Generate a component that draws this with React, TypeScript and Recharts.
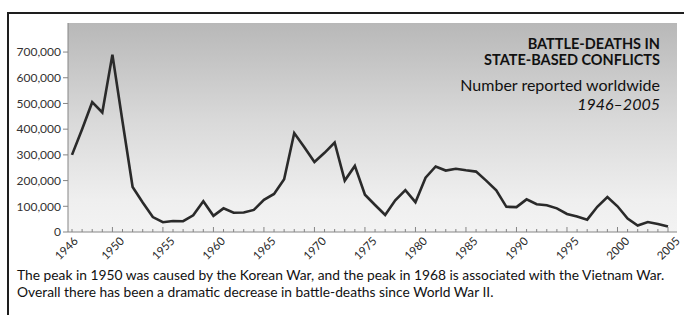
import { LineChart, Line, XAxis, YAxis, CartesianGrid } from "recharts";

// battle-deaths in state-based conflicts
const YEARS = [
  1946, 1947, 1948, 1949, 1950, 1951, 1952, 1953, 1954, 1955, 1956, 1957, 1958, 1959, 1960,
  1961, 1962, 1963, 1964, 1965, 1966, 1967, 1968, 1969, 1970, 1971, 1972, 1973, 1974, 1975,
  1976, 1977, 1978, 1979, 1980, 1981, 1982, 1983, 1984, 1985, 1986, 1987, 1988, 1989, 1990,
  1991, 1992, 1993, 1994, 1995, 1996, 1997, 1998, 1999, 2000, 2001, 2002, 2003, 2004, 2005,
];
const DEATHS = [
  300000, 400000, 505000, 465000, 690000, 430000, 175000, 115000, 58000, 38000, 43000, 42000,
  65000, 120000, 63000, 92000, 75000, 76000, 86000, 125000, 148000, 205000, 385000, 330000,
  272000, 308000, 348000, 200000, 257000, 145000, 105000, 66000, 123000, 163000, 116000,
  211000, 255000, 239000, 246000, 240000, 235000, 200000, 162000, 98000, 97000, 127000,
  108000, 104000, 92000, 70000, 60000, 48000, 98000, 136000, 100000, 52000, 25000, 39000,
  31000, 21000,
];
const Y_TICKS = [0, 100000, 200000, 300000, 400000, 500000, 600000, 700000];
const LABEL_YEARS = [1946, 1950, 1955, 1960, 1965, 1970, 1975, 1980, 1985, 1990, 1995, 2000, 2005];

const TITLE = ["BATTLE-DEATHS IN", "STATE-BASED CONFLICTS"];
const SUBTITLE = "Number reported worldwide";
const PERIOD = "1946–2005";
const CAPTION = [
  "The peak in 1950 was caused by the Korean War, and the peak in 1968 is associated with the Vietnam War.",
  "Overall there has been a dramatic decrease in battle-deaths since World War II.",
];

const data = YEARS.map((year, i) => ({ year, deaths: DEATHS[i] }));

const FONT = "Lato, 'Open Sans', sans-serif";
const AXIS_GRAY = "#858585";

function YearTick({ x, y, payload }: any) {
  const year = payload.value as number;
  const major = year % 5 === 0;
  // first label sits a little left of its tick in the original
  const cx = year === YEARS[0] ? x - 6 : x;
  return (
    <g>
      <line x1={x} x2={x} y1={y} y2={y - (major ? 5 : 3)} stroke={AXIS_GRAY} strokeWidth={1} />
      {LABEL_YEARS.includes(year) && (
        <text
          transform={`translate(${cx},${y + 16}) rotate(-45)`}
          textAnchor="middle"
          dominantBaseline="central"
          fontSize={11.5}
          fontFamily={FONT}
          fill="#2a2a2a"
        >
          {year}
        </text>
      )}
    </g>
  );
}

export default function App() {
  return (
    <div
      style={{
        position: "absolute",
        left: 0,
        top: 0,
        width: 684,
        height: 315,
        background: "#fff",
        fontFamily: FONT,
        color: "#1a1a1a",
      }}
    >
      <LineChart
        width={684}
        height={315}
        data={data}
        margin={{ top: 23, right: 7, left: 8, bottom: 43 }}
      >
        <defs>
          <linearGradient id="panelGrad" x1="0" y1="0" x2="0" y2="1">
            <stop offset="0%" stopColor="#b8b8b8" />
            <stop offset="45%" stopColor="#d8d8d8" />
            <stop offset="85%" stopColor="#efefef" />
            <stop offset="100%" stopColor="#f3f3f3" />
          </linearGradient>
        </defs>
        <CartesianGrid horizontal={false} vertical={false} fill="url(#panelGrad)" stroke="none" />
        <XAxis
          dataKey="year"
          type="number"
          domain={[1946, 2005]}
          ticks={YEARS}
          interval={0}
          padding={{ left: 4, right: 9 }}
          height={40}
          tickSize={0}
          tickMargin={0}
          tickLine={false}
          axisLine={{ stroke: AXIS_GRAY }}
          tick={<YearTick />}
        />
        <YAxis
          type="number"
          domain={[0, 813000]}
          ticks={Y_TICKS}
          interval={0}
          width={60}
          tickSize={5}
          tickMargin={2}
          axisLine={{ stroke: AXIS_GRAY }}
          tickLine={{ stroke: AXIS_GRAY }}
          tick={{ fontSize: 12, fill: "#333", fontFamily: FONT }}
          tickFormatter={(v: number) => v.toLocaleString("en-US")}
        />
        <Line
          type="linear"
          dataKey="deaths"
          stroke="#2a2a2a"
          strokeWidth={2.6}
          dot={false}
          isAnimationActive={false}
        />
        {/* top and left rules of the box around the figure */}
        <line x1={7} x2={684} y1={13} y2={13} stroke="#1e1e1e" strokeWidth={2} />
        <line x1={8} x2={8} y1={12} y2={315} stroke="#1e1e1e" strokeWidth={2} />
      </LineChart>
      <div
        style={{
          position: "absolute",
          right: 24,
          top: 36,
          textAlign: "right",
          fontSize: 14.5,
          lineHeight: "16px",
          fontWeight: 700,
          color: "#111",
          zIndex: 2,
        }}
      >
        {TITLE.map((t) => (
          <div key={t}>{t}</div>
        ))}
      </div>
      <div
        style={{
          position: "absolute",
          right: 24,
          top: 75,
          textAlign: "right",
          fontSize: 16,
          lineHeight: "19px",
          color: "#111",
          zIndex: 2,
        }}
      >
        <div>{SUBTITLE}</div>
        <div style={{ fontStyle: "italic" }}>{PERIOD}</div>
      </div>
      <div
        style={{
          position: "absolute",
          left: 17,
          top: 267,
          fontSize: 13.8,
          lineHeight: "16.5px",
          color: "#111",
          whiteSpace: "nowrap",
          zIndex: 2,
        }}
      >
        {CAPTION.map((c) => (
          <div key={c}>{c}</div>
        ))}
      </div>
    </div>
  );
}
